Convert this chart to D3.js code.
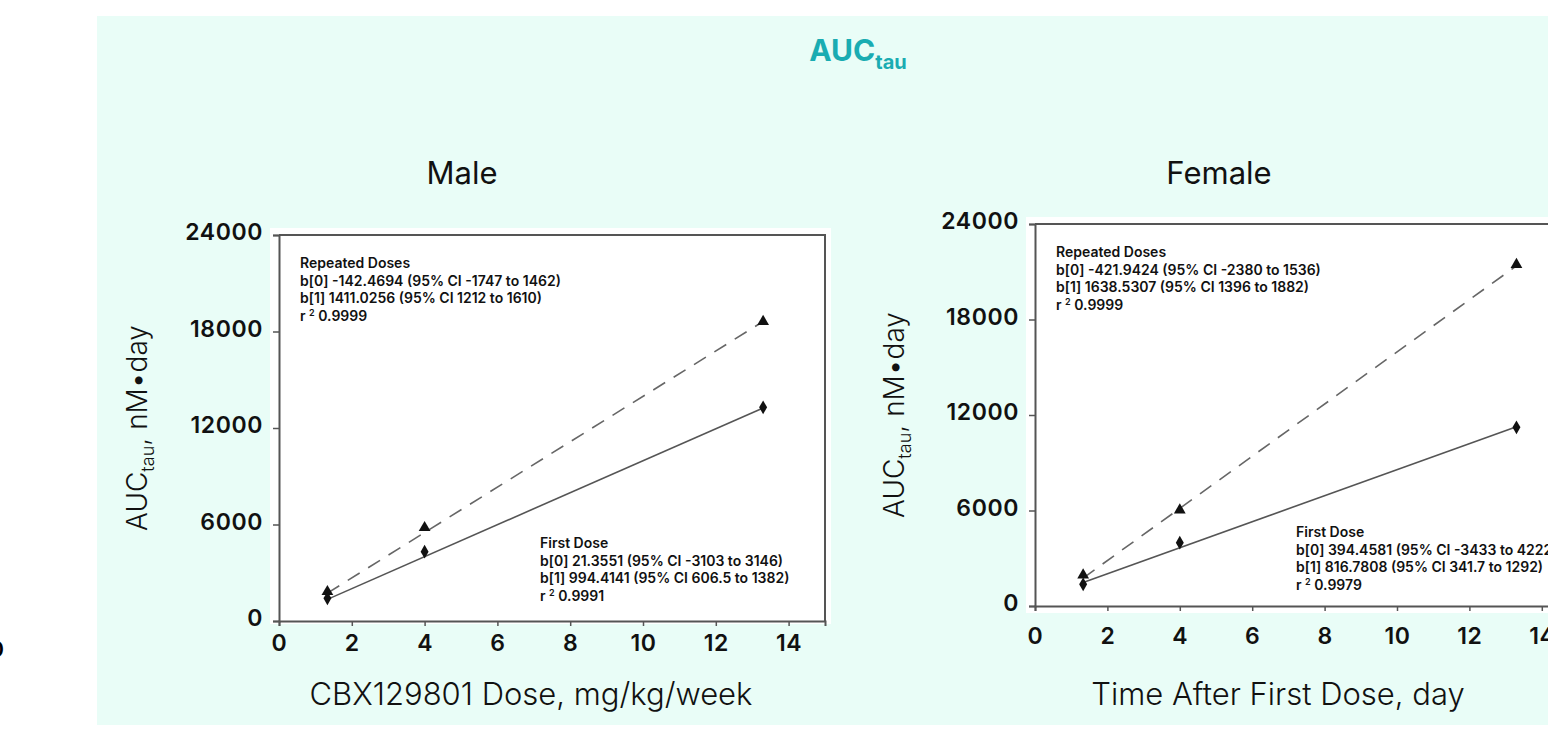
<!DOCTYPE html>
<html>
<head>
<meta charset="utf-8">
<script src="https://cdn.jsdelivr.net/npm/d3@7"></script>
<style>
  body { margin: 0; background: #fff; }
  svg { display: block; font-family: Inter, "Noto Sans", sans-serif; }
</style>
</head>
<body>
<svg id="chart" width="1548" height="750"></svg>
<script>
// --- data ---
const doses = [1.33, 4, 13.3];
const maleFirst = [1410, 4310, 13285];
const maleRepeated = [1822, 5800, 18620];
const femaleFirst = [1363, 3977, 11227];
const femaleRepeated = [1948, 6031, 21450];
// regression coefficients [b0, b1]
const maleFirstFit = [21.3551, 994.4141];
const maleRepeatedFit = [-142.4694, 1411.0256];
const femaleFirstFit = [394.4581, 816.7808];
const femaleRepeatedFit = [-421.9424, 1638.5307];
const xTicks = [0, 2, 4, 6, 8, 10, 12, 14];
const yTicks = [0, 6000, 12000, 18000, 24000];
const maleRepeatedNote = ['Repeated Doses', 'b[0] -142.4694 (95% CI -1747 to 1462)', 'b[1] 1411.0256 (95% CI 1212 to 1610)', 'r|0.9999'];
const maleFirstNote = ['First Dose', 'b[0] 21.3551 (95% CI -3103 to 3146)', 'b[1] 994.4141 (95% CI 606.5 to 1382)', 'r|0.9991'];
const femaleRepeatedNote = ['Repeated Doses', 'b[0] -421.9424 (95% CI -2380 to 1536)', 'b[1] 1638.5307 (95% CI 1396 to 1882)', 'r|0.9999'];
const femaleFirstNote = ['First Dose', 'b[0] 394.4581 (95% CI -3433 to 4222)', 'b[1] 816.7808 (95% CI 341.7 to 1292)', 'r|0.9979'];

const svg = d3.select('#chart');

// mint backdrop
svg.append('rect').attr('x', 97).attr('y', 16).attr('width', 1460).attr('height', 709).attr('fill', '#e9fdf7');

// stray tick label from a neighbouring figure at the far left
svg.append('text').attr('x', 4).attr('y', 657).attr('text-anchor', 'end')
  .style('font-size', '22px').style('font-weight', 600).text('0');

// main title
const title = svg.append('text').attr('x', 858).attr('y', 61).attr('text-anchor', 'middle')
  .attr('fill', '#1aacb2').style('font-size', '30px').style('font-weight', 700);
title.append('tspan').text('AUC');
title.append('tspan').attr('dy', 8).style('font-size', '20px').text('tau');

const panels = [
  { name: 'Male', xLabel: 'CBX129801 Dose, mg/kg/week', left: 279, right: 825, top: 235, bottom: 621,
    bg: [270, 228, 561, 396], first: maleFirst, rep: maleRepeated, firstFit: maleFirstFit, repFit: maleRepeatedFit,
    repNote: maleRepeatedNote, firstNote: maleFirstNote, repAt: [300, 268], firstAt: [540, 548],
    yTitleX: 147, titleX: 462, xTitleX: 531, xPad: 9 },
  { name: 'Female', xLabel: 'Time After First Dose, day', left: 1035, right: 1578, top: 224, bottom: 606,
    bg: [1026, 217, 560, 396], first: femaleFirst, rep: femaleRepeated, firstFit: femaleFirstFit, repFit: femaleRepeatedFit,
    repNote: femaleRepeatedNote, firstNote: femaleFirstNote, repAt: [1056, 257], firstAt: [1296, 537],
    yTitleX: 904, titleX: 1219, xTitleX: 1278, xPad: 17 }
];

panels.forEach(drawPanel);

function drawPanel(p) {
  const g = svg.append('g');
  g.append('rect').attr('x', p.bg[0]).attr('y', p.bg[1]).attr('width', p.bg[2]).attr('height', p.bg[3]).attr('fill', '#fff');

  const x = d3.scaleLinear().domain([0, 15]).range([p.left, p.right]);
  const y = d3.scaleLinear().domain([0, 24000]).range([p.bottom, p.top]);

  // frame (top + right)
  g.append('path').attr('d', `M${p.left},${p.top}H${p.right}V${p.bottom}`)
    .attr('fill', 'none').attr('stroke', '#555').attr('stroke-width', 2);

  // axes
  const ax = g.append('g').attr('transform', `translate(0,${p.bottom})`)
    .call(d3.axisBottom(x).tickValues(xTicks).tickSize(5).tickPadding(p.xPad));
  const ay = g.append('g').attr('transform', `translate(${p.left},0)`)
    .call(d3.axisLeft(y).tickValues(yTicks).tickFormat(d3.format('d')).tickSize(6).tickPadding(10));
  [ax, ay].forEach(a => {
    a.select('.domain').attr('stroke', '#555').attr('stroke-width', 2);
    a.selectAll('.tick line').attr('stroke', '#555').attr('stroke-width', 1.5);
    a.selectAll('.tick text').attr('fill', '#111').style('font-size', '23px').style('font-weight', 600)
      .style('letter-spacing', '0.6px').style('font-family', 'Inter, sans-serif');
  });
  ay.selectAll('.tick text').attr('dy', '0.2em');

  // fitted lines
  const xr = d3.extent(doses);
  const fitLine = d3.line().x(d => x(d[0])).y(d => y(d[1]));
  const fitPts = f => xr.map(v => [v, f[0] + f[1] * v]);
  g.append('path').attr('d', fitLine(fitPts(p.repFit))).attr('fill', 'none')
    .attr('stroke', '#666').attr('stroke-width', 1.6).attr('stroke-dasharray', '14,10');
  g.append('path').attr('d', fitLine(fitPts(p.firstFit))).attr('fill', 'none')
    .attr('stroke', '#555').attr('stroke-width', 1.6);

  // markers
  g.selectAll('.tri').data(doses).enter().append('path')
    .attr('transform', (d, i) => `translate(${x(d)},${y(p.rep[i])})`)
    .attr('d', d3.symbol(d3.symbolTriangle, 60)).attr('fill', '#111');
  g.selectAll('.dia').data(doses).enter().append('path')
    .attr('transform', (d, i) => `translate(${x(d)},${y(p.first[i])})`)
    .attr('d', d3.symbol(d3.symbolDiamond, 55)).attr('fill', '#111');

  // regression notes
  drawNote(g, p.repNote, p.repAt);
  drawNote(g, p.firstNote, p.firstAt);

  // titles
  g.append('text').attr('x', p.titleX).attr('y', 184).attr('text-anchor', 'middle')
    .attr('fill', '#111').style('font-size', '31px').style('font-weight', 400).text(p.name);
  g.append('text').attr('x', p.xTitleX).attr('y', 705).attr('text-anchor', 'middle')
    .attr('fill', '#111').style('font-size', '31px').style('font-weight', 300).text(p.xLabel);

  const yt = g.append('text').attr('transform', `translate(${p.yTitleX},${(p.top + p.bottom) / 2}) rotate(-90)`)
    .attr('text-anchor', 'middle').attr('fill', '#111').style('font-size', '28px').style('font-weight', 300);
  yt.append('tspan').text('AUC');
  yt.append('tspan').attr('dy', 7).style('font-size', '18px').text('tau');
  yt.append('tspan').attr('dy', -7).text(', nM•day');
}

function drawNote(g, lines, at) {
  const t = g.append('text').attr('fill', '#111').style('font-size', '14px').style('font-weight', 600);
  lines.forEach((l, i) => {
    const ts = t.append('tspan').attr('x', at[0]).attr('y', at[1] + i * 17.7);
    if (l.startsWith('r|')) {
      ts.text('r ');
      t.append('tspan').attr('dy', -5).style('font-size', '9px').text('2');
      t.append('tspan').attr('dy', 5).text(' ' + l.slice(2));
    } else {
      ts.text(l);
    }
  });
}
</script>
</body>
</html>
